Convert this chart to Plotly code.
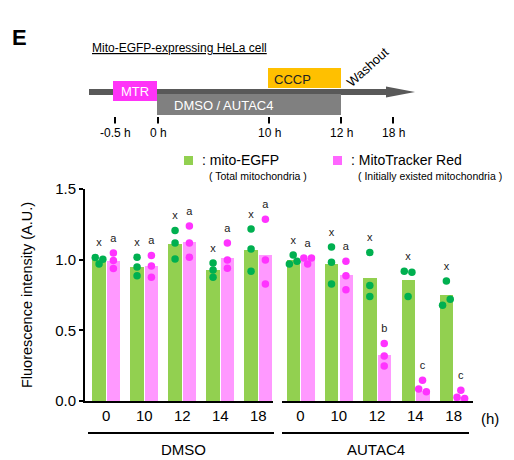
import plotly.graph_objects as go

# ---------------- data ----------------
groups = ["DMSO", "AUTAC4"]
times = ["0", "10", "12", "14", "18"]

dmso_egfp_bar = [1.00, 0.95, 1.11, 0.925, 1.066]
dmso_mtr_bar = [0.99, 0.953, 1.123, 1.012, 1.033]
autac_egfp_bar = [0.996, 0.967, 0.868, 0.857, 0.748]
autac_mtr_bar = [1.01, 0.89, 0.323, 0.071, 0.028]

dmso_egfp_pts = [[1.016, 0.97, 1.003], [1.017, 0.948, 0.887], [1.206, 1.118, 1.005],
                 [0.977, 0.927, 0.875], [1.217, 1.076, 0.918]]
dmso_mtr_pts = [[1.047, 0.994, 0.937], [1.029, 0.955, 0.875], [1.239, 1.118, 1.017],
                [1.118, 0.998, 0.94], [1.286, 0.998, 0.828]]
autac_egfp_pts = [[0.97, 1.033, 0.989], [1.09, 0.982, 0.828], [1.05, 0.817, 0.739],
                  [0.918, 0.911, 0.739], [0.849, 0.677, 0.72]]
autac_mtr_pts = [[1.012, 0.97, 1.012], [0.989, 0.887, 0.788], [0.406, 0.319, 0.248],
                 [0.146, 0.085, 0.066], [0.076, 0.026, 0.017]]

# horizontal jitter slot of each dot (-1, 0, +1)
dmso_egfp_jit = [[-1, 0, 1], [0, 0, 0], [0, 0, 0], [0, 0, 0], [0, 0, 0]]
dmso_mtr_jit = [[0, 0, 0], [0, 0, 0], [0, 0, 0], [0, 0, 0], [0, 0, 0]]
autac_egfp_jit = [[-1, 0, 1], [0, 0, 0], [0, 0, 0], [-1, 1, 0], [0, -1, 1]]
autac_mtr_jit = [[-1, 0, 1], [0, 0, 0], [0, 0, 0], [0, -1, 1], [0, -1, 1]]

dmso_egfp_letters = ["x", "x", "x", "x", "x"]
dmso_mtr_letters = ["a", "a", "a", "a", "a"]
autac_egfp_letters = ["x", "x", "x", "x", "x"]
autac_mtr_letters = ["a", "a", "b", "c", "c"]

timeline_labels = ["-0.5 h", "0 h", "10 h", "12 h", "18 h"]

# ---------------- style ----------------
FONT = "Arial, Liberation Sans, sans-serif"
GREEN_BAR = "#92D050"
PINK_BAR = "#FF99FF"
GREEN_DOT = "#00B050"
PINK_DOT = "#FF33FF"
BAR_W = 0.35
GREEN_OFF = -0.365
PINK_OFF = 0.012
JIT = 0.1

W_PX, H_PX = 514, 460
L, R, T, B = 85, 473, 189, 401
PW, PH = R - L, B - T


def px(x):
    return (x - L) / PW


def py(y):
    return (B - y) / PH


fig = go.Figure()

sets = [
    ("x", dmso_egfp_bar, dmso_mtr_bar, dmso_egfp_pts, dmso_mtr_pts,
     dmso_egfp_jit, dmso_mtr_jit, dmso_egfp_letters, dmso_mtr_letters),
    ("x2", autac_egfp_bar, autac_mtr_bar, autac_egfp_pts, autac_mtr_pts,
     autac_egfp_jit, autac_mtr_jit, autac_egfp_letters, autac_mtr_letters),
]

pos = list(range(len(times)))
for xa, gb, pb, gp, pp, gj, pj, gl, pl in sets:
    fig.add_trace(go.Bar(x=pos, y=gb, width=BAR_W, offset=GREEN_OFF,
                         marker=dict(color=GREEN_BAR, line=dict(width=0)),
                         xaxis=xa, yaxis="y", showlegend=False))
    fig.add_trace(go.Bar(x=pos, y=pb, width=BAR_W, offset=PINK_OFF,
                         marker=dict(color=PINK_BAR, line=dict(width=0)),
                         xaxis=xa, yaxis="y", showlegend=False))
    gc = GREEN_OFF + BAR_W / 2
    pc = PINK_OFF + BAR_W / 2
    for pts, jits, c, col in [(gp, gj, gc, GREEN_DOT), (pp, pj, pc, PINK_DOT)]:
        xs, ys = [], []
        for i, (vals, js) in enumerate(zip(pts, jits)):
            for v, j in zip(vals, js):
                xs.append(i + c + j * JIT)
                ys.append(v)
        fig.add_trace(go.Scatter(x=xs, y=ys, mode="markers",
                                 marker=dict(color=col, size=7.5, line=dict(width=0)),
                                 xaxis=xa, yaxis="y", showlegend=False, cliponaxis=False))
    for pts, letters, c in [(gp, gl, gc), (pp, pl, pc)]:
        fig.add_trace(go.Scatter(
            x=[i + c for i in pos], y=[max(v) + 0.1 for v in pts],
            mode="text", text=letters, textposition="middle center",
            textfont=dict(family=FONT, size=11, color="#222"),
            xaxis=xa, yaxis="y", showlegend=False, cliponaxis=False))

ax_common = dict(showline=True, linecolor="black", linewidth=2, ticks="",
                 showgrid=False, zeroline=False, tickvals=pos, ticktext=times,
                 automargin=False,
                 tickfont=dict(family=FONT, size=15, color="black"))
fig.update_layout(
    width=W_PX, height=H_PX,
    margin=dict(l=L, r=W_PX - R, t=T, b=H_PX - B, autoexpand=False),
    plot_bgcolor="white", paper_bgcolor="white",
    bargap=0, barmode="overlay",
    xaxis=dict(domain=[0, px(273)], range=[-0.56, -0.56 + 188 / 38.0], anchor="y", **ax_common),
    xaxis2=dict(domain=[px(281.7), 1], range=[-0.49, -0.49 + (R - 281.7) / 38.3], anchor="y", **ax_common),
    yaxis=dict(range=[0, 1.5], tickvals=[0, 0.5, 1.0, 1.5], ticktext=["0.0", "0.5", "1.0", "1.5"],
               showline=True, linecolor="black", linewidth=2, ticks="outside", ticklen=4,
               tickwidth=2, tickcolor="black", showgrid=False, zeroline=False,
               automargin=False,
               tickfont=dict(family=FONT, size=15, color="black"),
               title=dict(text="Fluorescence intensity (A.U.)", standoff=19,
                          font=dict(family=FONT, size=14.5, color="black")),
               anchor="x"),
    font=dict(family=FONT, color="black"),
)

shapes = []
ann = []


def text(x, y, s, size=13, color="black", xanchor="center", yanchor="middle", **kw):
    ann.append(dict(x=px(x), y=py(y), xref="paper", yref="paper", text=s, showarrow=False,
                    xanchor=xanchor, yanchor=yanchor,
                    font=dict(family=FONT, size=size, color=color), **kw))


def rect(x0, y0, x1, y1, color):
    shapes.append(dict(type="rect", xref="paper", yref="paper", x0=px(x0), x1=px(x1),
                       y0=py(y1), y1=py(y0), fillcolor=color, line=dict(width=0), layer="above"))


# group lines and labels
shapes.append(dict(type="line", xref="paper", yref="paper", x0=px(88), x1=px(274),
                   y0=py(433), y1=py(433), line=dict(color="black", width=2)))
shapes.append(dict(type="line", xref="paper", yref="paper", x0=px(282), x1=px(469),
                   y0=py(433), y1=py(433), line=dict(color="black", width=2)))
text(183, 449, groups[0], size=15)
text(376, 449, groups[1], size=15)
text(490, 418, "(h)", size=15)

# legend
rect(184, 156, 193, 165, GREEN_BAR)
text(200, 160, ": mito-EGFP", size=14, xanchor="left")
text(207, 176, "( Total mitochondria )", size=10.5, xanchor="left")
rect(333, 156, 342, 165, "#FF66FF")
text(349, 160, ": MitoTracker Red", size=14, xanchor="left")
text(356, 176, "( Initially existed mitochondria )", size=10.5, xanchor="left")

# schematic
text(19, 37, "<b>E</b>", size=22)
text(90, 48, "<u>Mito-EGFP-expressing HeLa cell</u>", size=12, xanchor="left")
rect(89, 89, 388, 95, "#595959")
shapes.append(dict(type="path", xref="paper", yref="paper",
                   path=f"M {px(386)} {py(86.5)} L {px(415)} {py(92)} L {px(386)} {py(97.5)} Z",
                   fillcolor="#595959", line=dict(width=0), layer="above"))
rect(157, 94, 341, 115, "#808080")
rect(113, 81, 157, 101, "#FF33F8")
rect(268, 68, 341, 88, "#FFC000")
text(135, 91.5, "MTR", size=13, color="white")
text(223, 105, "DMSO / AUTAC4", size=13, color="white")
text(292, 79, "CCCP", size=13, color="#222")
text(367, 67, "Washout", size=13, textangle=-42)
tick_px = [115, 158, 269, 341, 393]
for xp, lab in zip(tick_px, timeline_labels):
    shapes.append(dict(type="line", xref="paper", yref="paper", x0=px(xp), x1=px(xp),
                       y0=py(117), y1=py(123.5), line=dict(color="black", width=2)))
    text(xp, 133, lab, size=12)

fig.update_layout(shapes=shapes, annotations=ann)
fig.write_html("out.html", config={"displayModeBar": False},
               post_script="document.body.style.margin='0px';")
